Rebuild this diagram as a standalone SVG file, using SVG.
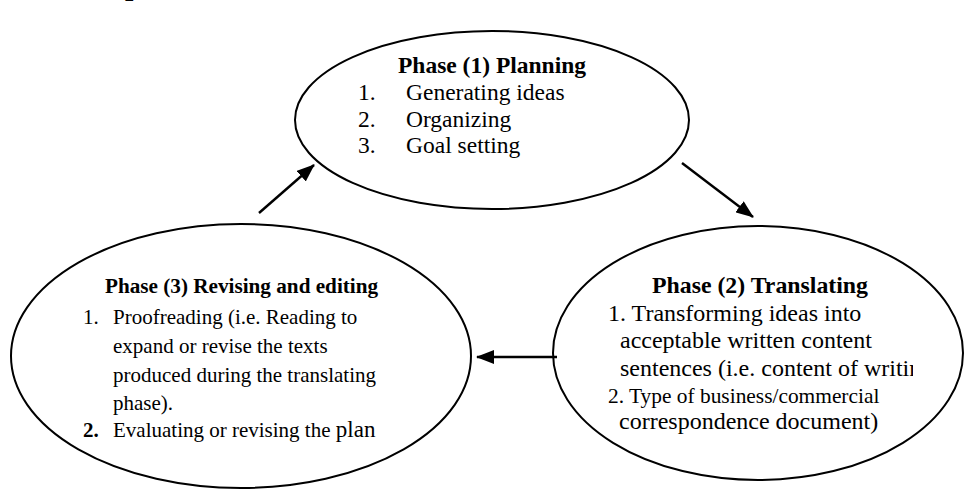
<svg xmlns="http://www.w3.org/2000/svg" width="964" height="491" viewBox="0 0 964 491">
<defs>
<style>
.ell{fill:none;stroke:#000;stroke-width:2}
.con{stroke:#000;stroke-width:2.4;fill:none}
text{font-family:"Liberation Serif","Times New Roman",serif;fill:#000}
.b{font-weight:bold}
</style>
<marker id="ah" viewBox="0 0 18 14" markerWidth="18" markerHeight="14" refX="17" refY="7" orient="auto" markerUnits="userSpaceOnUse">
<path d="M0,0 L18,7 L0,14 z" fill="#000"/>
</marker>
<clipPath id="clipR"><rect x="540" y="220" width="373" height="271"/></clipPath>
</defs>
<rect width="964" height="491" fill="#fff"/>
<text class="b" x="125" y="-5" font-size="30">p</text>
<g id="planning">
<ellipse class="ell" cx="492" cy="120" rx="197" ry="89"/>
<text class="b" x="492" y="73" font-size="23.5" text-anchor="middle">Phase (1) Planning</text>
<text font-size="23.5" x="358" y="100">1.</text>
<text font-size="23.5" x="406" y="100">Generating ideas</text>
<text font-size="23.5" x="358" y="127">2.</text>
<text font-size="23.5" x="406" y="127">Organizing</text>
<text font-size="23.5" x="358" y="153">3.</text>
<text font-size="23.5" x="406" y="153">Goal setting</text>
</g>
<g id="translating">
<ellipse class="ell" cx="758" cy="353" rx="205" ry="127"/>
<text class="b" x="652" y="293" font-size="23.8">Phase (2) Translating</text>
<text font-size="24" x="608" y="321">1. Transforming ideas into</text>
<text font-size="24" x="620" y="348">acceptable written content</text>
<g clip-path="url(#clipR)"><text font-size="24" x="620" y="376">sentences (i.e. content of writin</text></g>
<text font-size="21.4" x="608" y="403">2. Type of business/commercial</text>
<text font-size="24" x="619" y="429">correspondence document)</text>
</g>
<g id="revising">
<ellipse class="ell" cx="241" cy="356" rx="230" ry="132"/>
<text class="b" x="105" y="293" font-size="21.2">Phase (3) Revising and editing</text>
<text font-size="21" x="83" y="324">1.</text>
<text font-size="21" x="113" y="324">Proofreading (i.e. Reading to</text>
<text font-size="21" x="113" y="353">expand or revise the texts</text>
<text font-size="21" x="113" y="382">produced during the translating</text>
<text font-size="21" x="113" y="410">phase).</text>
<text class="b" font-size="21" x="83" y="437">2.</text>
<text font-size="21" x="113" y="437">Evaluating or revising the <tspan font-size="23">plan</tspan></text>
</g>
<g id="connectors">
<line class="con" x1="259" y1="213" x2="314" y2="165" marker-end="url(#ah)"/>
<line class="con" x1="682" y1="163" x2="753" y2="217" marker-end="url(#ah)"/>
<line class="con" x1="557" y1="357" x2="477" y2="357" marker-end="url(#ah)"/>
</g>
</svg>
